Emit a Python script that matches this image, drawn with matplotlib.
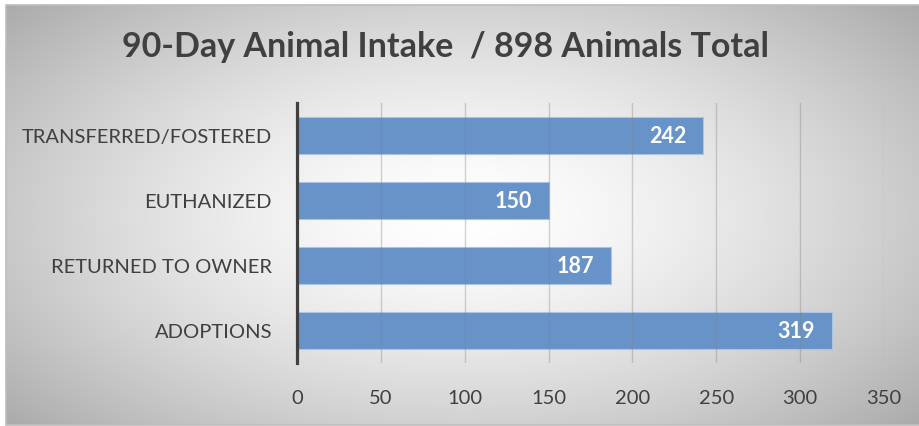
import numpy as np
import matplotlib
matplotlib.use("Agg")
import matplotlib.pyplot as plt
from matplotlib.patches import Rectangle

categories = ["ADOPTIONS", "RETURNED TO OWNER", "EUTHANIZED", "TRANSFERRED/FOSTERED"]
values = [319, 187, 150, 242]
xticks = [0, 50, 100, 150, 200, 250, 300, 350]
title = "90-Day Animal Intake  / 898 Animals Total"

plt.rcParams['font.family'] = ['Lato', 'DejaVu Sans']

W, H = 920, 427
fig = plt.figure(figsize=(W / 100, H / 100), dpi=100)
fig.patch.set_facecolor('white')

# background panel with radial gradient
bx0, by0, bx1, by1 = 6, 6, 920, 426
bg = fig.add_axes([bx0 / W, 1 - by1 / H, (bx1 - bx0) / W, (by1 - by0) / H], zorder=-5)
gx = np.linspace(-1, 1, 400)
gy = np.linspace(-1, 1, 200)
X, Y = np.meshgrid(gx, gy)
R = np.sqrt((X * 1.0) ** 2 + (Y * 0.9) ** 2) / np.sqrt(1 + 0.81)
val = 1 - 0.33 * np.clip(R, 0, 1) ** 1.5
img = np.dstack([val, val, val])
bg.imshow(img, extent=[0, 1, 0, 1], aspect='auto', interpolation='bilinear')
bg.set_xlim(0, 1); bg.set_ylim(0, 1)
bg.axis('off')
fig.patches.append(Rectangle((bx0 / W, 1 - by1 / H), (bx1 - bx0) / W, (by1 - by0) / H,
                             transform=fig.transFigure, fill=False, edgecolor='#BDBDBD',
                             linewidth=1.2, zorder=-4))

# main axes
left, right = 297 / W, 884 / W
top, bottom = 1 - 104 / H, 1 - 364 / H
ax = fig.add_axes([left, bottom, right - left, top - bottom])
ax.patch.set_alpha(0)

y = np.arange(len(categories))
bars = ax.barh(y, values, height=0.57, color='#6893C8', edgecolor='#A9C4E4', linewidth=0.8, zorder=2)
ax.set_xlim(0, 350)
ax.set_ylim(-0.5, len(categories) - 0.5)
ax.set_xticks(xticks)
ax.set_yticks(y)
ax.set_yticklabels(categories)
ax.tick_params(axis='both', length=0, labelsize=14.5, labelcolor='#404040')
ax.tick_params(axis='x', pad=19)
ax.tick_params(axis='y', pad=18)
ax.grid(axis='x', color='#7F7F7F', alpha=0.35, linewidth=1.0, zorder=3)
ax.set_axisbelow(False)
for s in ['top', 'right', 'bottom']:
    ax.spines[s].set_visible(False)
ax.spines['left'].set_color('#404040')
ax.spines['left'].set_linewidth(2.3)
ax.spines['left'].set_zorder(4)

for yi, v in zip(y, values):
    ax.text(v - 10, yi, str(v), ha='right', va='center', color='white',
            fontsize=15.5, fontweight='bold', zorder=5)

fig.text(446 / W, 1 - 47 / H, title, ha='center', va='center', fontsize=24.5,
         fontweight='bold', color='#404040')

fig.savefig('out.png', dpi=100)
